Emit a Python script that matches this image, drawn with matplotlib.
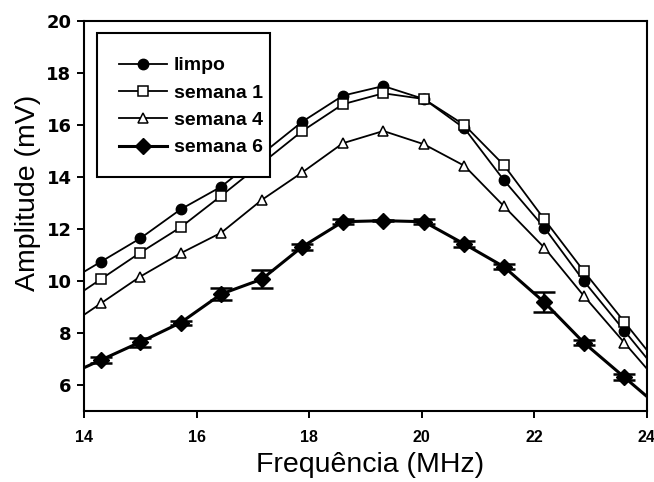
import numpy as np
import matplotlib
matplotlib.use("Agg")
import matplotlib.pyplot as plt
from matplotlib.patches import Rectangle

plt.rcParams['font.family'] = ['Liberation Sans', 'DejaVu Sans']

# Data
freq = [14.30, 15.00, 15.72, 16.44, 17.16, 17.88, 18.60, 19.32, 20.04, 20.76, 21.46, 22.18, 22.88, 23.60]

limpo_x = [14.30, 15.00, 15.72, 16.44, 17.88, 18.60, 19.32, 20.04, 20.76, 21.46, 22.18, 22.88, 23.60]
limpo = [10.74, 11.64, 12.76, 13.63, 16.13, 17.13, 17.50, 17.00, 15.87, 13.88, 12.05, 10.00, 8.09]

sem1_x = [14.30, 15.00, 15.72, 16.44, 17.88, 18.60, 19.32, 20.04, 20.76, 21.46, 22.18, 22.88, 23.60]
sem1 = [10.07, 11.09, 12.07, 13.28, 15.77, 16.80, 17.22, 17.00, 16.00, 14.46, 12.37, 10.38, 8.43]

sem4 = [9.14, 10.17, 11.07, 11.86, 13.12, 14.18, 15.30, 15.77, 15.26, 14.43, 12.88, 11.28, 9.43, 7.63]

sem6 = [6.96, 7.65, 8.40, 9.50, 10.07, 11.32, 12.28, 12.32, 12.28, 11.42, 10.55, 9.18, 7.63, 6.30]
sem6_err = [0.12, 0.17, 0.08, 0.22, 0.35, 0.12, 0.10, 0.03, 0.10, 0.10, 0.10, 0.38, 0.10, 0.12]

labels = ["limpo", "semana 1", "semana 4", "semana 6"]
xlim = (14, 24)
ylim = (5, 20)
xticks = [14, 16, 18, 20, 22, 24]
yticks = [6, 8, 10, 12, 14, 16, 18, 20]


def extended(x, y):
    """Extend the curve linearly to the axis limits (as in the reference)."""
    x = list(x); y = list(y)
    s0 = (y[1] - y[0]) / (x[1] - x[0])
    s1 = (y[-1] - y[-2]) / (x[-1] - x[-2])
    xl = [xlim[0]] + x + [xlim[1]]
    yl = [y[0] + s0 * (xlim[0] - x[0])] + y + [y[-1] + s1 * (xlim[1] - x[-1])]
    return xl, yl


fig = plt.figure(figsize=(6.54, 4.82), dpi=100)
ax = fig.add_axes([0.1284, 0.1473, 0.8606, 0.8091])

series = [
    (limpo_x, limpo, dict(marker='o', mfc='black', mec='black', ms=7.5), 1.3),
    (sem1_x, sem1, dict(marker='s', mfc='white', mec='black', ms=6.5, mew=1.1), 1.3),
    (freq, sem4, dict(marker='^', mfc='white', mec='black', ms=7.5, mew=1.1), 1.3),
    (freq, sem6, dict(marker='D', mfc='black', mec='black', ms=8), 2.2),
]

handles = []
for (x, y, mk, lw), lab in zip(series, labels):
    xl, yl = extended(x, y)
    ax.plot(xl, yl, color='black', lw=lw, zorder=2, clip_on=True)
    ax.plot(x, y, ls='none', zorder=3, **mk)
    h, = ax.plot([], [], color='black', lw=lw, label=lab, **mk)
    handles.append(h)

ax.errorbar(freq, sem6, yerr=sem6_err, fmt='none', ecolor='black',
            elinewidth=1.6, capsize=8, capthick=1.8, zorder=4)

ax.set_xlim(*xlim)
ax.set_ylim(*ylim)
ax.set_xticks(xticks)
ax.set_yticks(yticks)

for lbl in ax.get_xticklabels():
    lbl.set_fontweight('bold'); lbl.set_fontsize(11.5)
for lbl in ax.get_yticklabels():
    lbl.set_fontweight('bold'); lbl.set_fontsize(13); lbl.set_family('DejaVu Sans')

ax.tick_params(axis='both', direction='out', length=5, width=1.4, color='black')
ax.tick_params(axis='x', pad=9)
ax.tick_params(axis='y', pad=4)
for sp in ax.spines.values():
    sp.set_linewidth(1.5)

ax.set_xlabel("Frequência (MHz)", fontsize=20.5, labelpad=5)
ax.set_ylabel("Amplitude (mV)", fontsize=20.5, labelpad=4)
ax.xaxis.label.set_x(0.509)
ax.yaxis.label.set_y(0.56)

# legend box
ax.add_patch(Rectangle((0.023, 0.600), 0.307, 0.370, transform=ax.transAxes,
                       facecolor='white', edgecolor='black', lw=1.5, zorder=5))
leg = ax.legend(handles=handles, loc='upper left', bbox_to_anchor=(0.048, 0.928),
                frameon=False, prop=dict(weight='bold', size=14),
                handlelength=2.47, handletextpad=0.36, labelspacing=0.5,
                borderaxespad=0.0)
leg.set_zorder(6)

fig.savefig("out.png", dpi=100)
